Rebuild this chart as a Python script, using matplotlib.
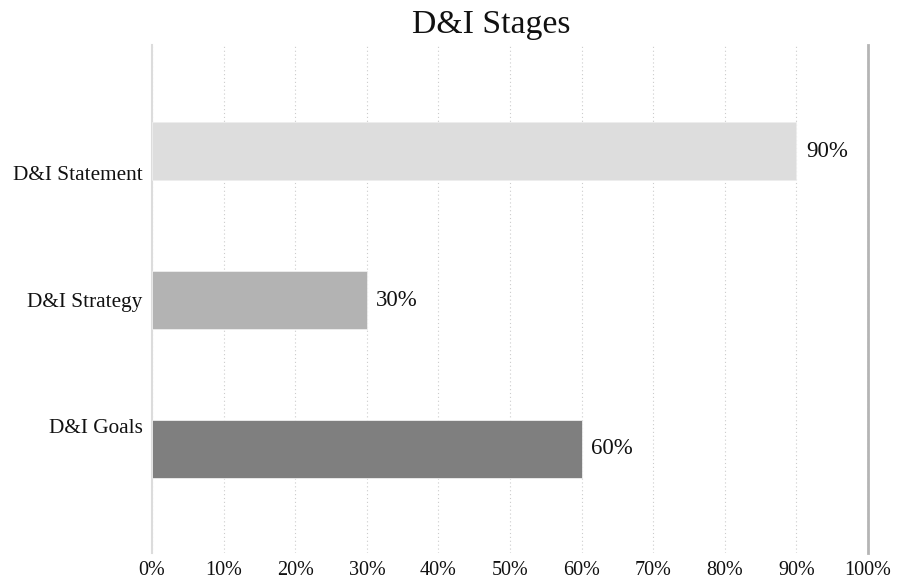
import numpy as np
import matplotlib.pyplot as plt
from matplotlib.ticker import PercentFormatter

plt.rcParams['font.family'] = ['Liberation Serif', 'DejaVu Serif']

# stages, top to bottom
stages = ["D&I Statement", "D&I Strategy", "D&I Goals"]
values = [90, 30, 60]
bar_colors = ["#dddddd", "#b3b3b3", "#7f7f7f"]
x_ticks = list(range(0, 101, 10))

fig = plt.figure(figsize=(9, 5.79), dpi=100)
ax = fig.add_axes([0.169, 0.045, 0.7955, 0.877])

pos = np.arange(len(stages))
bars = ax.barh(pos, values, height=0.39, color=bar_colors, edgecolor="#eeeeee", linewidth=0.6, zorder=3)

for b, v in zip(bars, values):
    ax.text(v + 1.3, b.get_y() + b.get_height() / 2, f"{v}%",
            va="center", ha="left", fontsize=16.5, color="#111111")

ax.set_xlim(0, 100)
ax.set_ylim(2.698, -0.711)

ax.set_xticks(x_ticks)
ax.xaxis.set_major_formatter(PercentFormatter(decimals=0))
# category labels sit a little spread out from the bar centres
ax.set_yticks([pos[0] + 0.15, pos[1], pos[2] - 0.155])
ax.set_yticklabels(stages)
ax.tick_params(axis="both", length=0, colors="#111111")
ax.tick_params(axis="x", labelsize=14.5, pad=6)
ax.tick_params(axis="y", labelsize=15.3, pad=7)

ax.grid(axis="x", linestyle=(0, (1, 2.5)), color="#cccccc", linewidth=0.8, zorder=0)
ax.grid(axis="y", visible=False)

for s in ["top", "bottom"]:
    ax.spines[s].set_visible(False)
ax.spines["left"].set_color("#dcdcdc")
ax.spines["left"].set_linewidth(1.5)
ax.spines["right"].set_color("#b5b5b5")
ax.spines["right"].set_linewidth(2)

fig.text(0.546, 0.957, "D&I Stages", ha="center", va="center", fontsize=24.3, color="#111111")

fig.savefig("out.png", dpi=100)
